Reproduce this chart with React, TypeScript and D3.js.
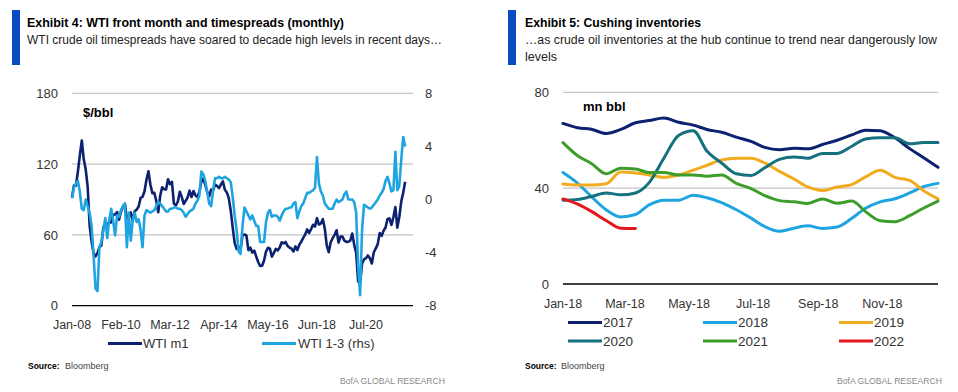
import * as d3 from "d3";

const FONT = "'Liberation Sans', Arial, sans-serif";
const TEXT = "#333333";
const GRID = "#c4c4c4";
const BAR = "#0b4cc2";

// Exhibit 4: month-end values, Jan-08 .. Mar-22
const wtiStart = "Jan-08";
const wtiM1 = [
  91.8, 101.8, 101.6, 113.5, 127.4, 140.0, 124.1, 115.5, 100.6, 67.8, 54.4, 44.6,
  41.7, 44.8, 49.7, 51.1, 66.3, 69.9, 69.5, 70.0, 70.6, 77.0, 77.3, 79.4,
  72.9, 79.7, 83.8, 86.2, 74.0, 75.6, 79.0, 71.9, 80.0, 81.4, 84.1, 91.4,
  92.2, 97.0, 106.7, 113.9, 102.7, 95.4, 95.7, 88.8, 79.2, 93.2, 100.4, 98.8,
  98.5, 107.1, 103.0, 104.9, 86.5, 85.0, 88.1, 96.5, 92.2, 86.2, 88.9, 91.8,
  97.5, 92.1, 97.2, 93.5, 92.0, 96.6, 105.0, 107.7, 102.3, 96.4, 92.7, 98.4,
  97.5, 102.6, 101.6, 99.7, 102.7, 105.4, 98.2, 96.0, 91.2, 80.5, 66.2, 53.3,
  48.2, 49.8, 47.6, 59.6, 60.3, 59.5, 47.1, 49.2, 45.1, 46.6, 41.7, 37.0,
  33.6, 33.8, 38.3, 45.9, 49.1, 48.3, 41.6, 44.7, 48.2, 46.9, 49.4, 53.7,
  52.8, 54.0, 50.6, 49.3, 48.3, 46.0, 50.2, 47.2, 51.7, 54.4, 57.4, 60.4,
  64.7, 61.6, 64.9, 68.6, 67.0, 74.2, 68.8, 69.8, 73.3, 65.3, 50.9, 45.4,
  53.8, 57.2, 60.1, 63.9, 53.5, 58.5, 58.6, 55.1, 54.1, 54.2, 55.2, 61.1,
  51.6, 44.8, 20.5, 19.0, 35.5, 39.3, 40.3, 42.6, 40.2, 35.8, 45.3, 48.5,
  52.2, 61.5, 59.2, 63.6, 66.3, 73.5, 74.0, 68.5, 75.0, 83.6, 66.2, 75.2,
  88.2, 95.7, 105.0,
];
const wti13 = [
  0.1, 0.9, 1.2, 1.4, 0.6, -0.7, -0.8, 0.0, -0.5, -1.0, -2.0, -4.2,
  -6.7, -6.9, -3.6, -3.2, -2.3, -1.4, -2.9, -1.5, -0.7, -1.6, -2.7, -1.2,
  -1.3, -0.8, -0.5, -0.3, -3.6, -1.0, -3.1, -1.5, -1.0, -1.7, -1.5, -2.3,
  -3.6, -1.2, -0.8, -0.9, -1.0, -0.9, -0.8, -0.5, -0.2, -0.3, -0.5, -0.7,
  -0.9, -0.9, -0.7, -0.7, -0.6, -0.6, -0.7, -0.7, -0.8, -1.0, -1.3, -1.1,
  -0.9, -0.8, -0.7, -0.3, -0.1, 0.3, 2.1, 1.9, 1.4, 0.6, -0.3, -0.5,
  0.7, 1.6, 1.6, 1.7, 1.6, 1.6, 1.7, 1.6, 1.5, 1.3, 0.2, -1.2,
  -2.3, -3.9, -4.1, -2.0, -0.6, -0.9, -1.2, -1.5, -1.2, -1.6, -2.0, -2.0,
  -3.2, -3.2, -3.2, -1.7, -1.0, -0.8, -1.3, -1.2, -1.2, -1.3, -1.6, -1.2,
  -0.9, -0.7, -0.7, -0.6, -0.6, -0.3, -0.2, -1.4, -0.9, -0.5, -0.3, 0.1,
  0.5, 0.5, 0.6, 0.7, 0.9, 3.2, 1.2, 0.6, 0.3, -0.3, -0.5, -0.7,
  -0.7, -0.7, -0.3, 0.0, -0.2, -0.1, 0.0, 0.4, 0.6, 0.0, 0.0, 0.0,
  -0.2, -1.0, -5.0, -7.2, -2.3, -0.4, -0.5, -0.6, -0.7, -0.6, -0.4, -0.2,
  0.0, 0.3, 0.5, 0.8, 1.4, 1.7, 1.2, 0.6, 0.7, 3.6, 0.7, 1.0,
  3.0, 4.7, 4.0,
];
const wtiTicks = ["Jan-08", "Feb-10", "Mar-12", "Apr-14", "May-16", "Jun-18", "Jul-20"];
const wtiAxisEnd = "Jul-22";
const priceTicks = [0, 60, 120, 180];
const spreadTicks = [-8, -4, 0, 4, 8];

// Exhibit 5: Cushing stocks (mn bbl), ~fortnightly through the year
const cushingYears = ["2017", "2018", "2019", "2020", "2021", "2022"];
const inv2017 = [67, 65.2, 64.6, 62.8, 64.5, 67.3, 68.2, 69.3, 67.5, 66.3, 64.5, 63.3, 61.3, 59.5, 57, 56, 56.6, 56.4, 58.2, 60, 62.2, 64.2, 64, 61, 56.5, 52.8, 48.7];
const inv2018 = [46.5, 42, 36.5, 31, 28, 29, 33, 35, 35, 37, 36, 34, 31, 27.5, 24, 22, 23.3, 24.3, 23.2, 23.8, 27.4, 31.6, 34.3, 35.6, 38, 40.6, 42];
const inv2019 = [41.7, 41.3, 41.3, 41.8, 46.7, 46.3, 45.5, 44.5, 45.5, 47.5, 49.5, 51.8, 52.5, 52.5, 50.5, 47, 43.8, 40.5, 39, 40.5, 41.5, 44.7, 47.5, 44.5, 43.2, 39, 35.5];
const inv2020 = [35, 35.3, 36.5, 38, 37.2, 38, 42.3, 52.5, 62, 64, 55.5, 50.5, 46, 45.3, 48.5, 52, 53, 52.5, 54.5, 54.5, 57.5, 60.5, 61, 61, 58.5, 59, 59];
const inv2021 = [59, 53.5, 50.3, 46, 48.3, 48, 46.5, 46.5, 45.5, 45.5, 45, 45.5, 42, 39.8, 36.9, 34.8, 34.3, 33.6, 35.5, 33.7, 34.6, 30.2, 26.4, 26, 28.5, 31.6, 34.6];
const inv2022 = [35.5, 33.3, 30.3, 26.5, 23.3, 23.2];
const cushingColors = ["#0c2170", "#1ea4e0", "#f0ab1e", "#16717f", "#3c9d2b", "#e3161c"];
const cushingTicks = ["Jan-18", "Mar-18", "May-18", "Jul-18", "Sep-18", "Nov-18"];
const invTicks = [0, 40, 80];

const parseMon = d3.timeParse("%b-%y");

function LeftChart() {
  const start = parseMon(wtiStart)!;
  const monthIdx = (label: string) => d3.timeMonth.count(start, parseMon(label)!);
  const x = d3.scaleLinear().domain([0, monthIdx(wtiAxisEnd)]).range([72, 413]);
  const yL = d3.scaleLinear().domain([0, 180]).range([305.7, 93.3]);
  const yR = d3.scaleLinear().domain([-8, 8]).range([305.7, 93.3]);
  const lineM1 = d3.line<number>().x((_, i) => x(i)).y((d) => yL(d));
  const line13 = d3.line<number>().x((_, i) => x(i)).y((d) => yR(d));
  const [x0, x1] = x.range();

  return (
    <g fontFamily={FONT}>
      <rect x={12} y={10} width={8} height={55} fill={BAR} />
      <text x={27} y={27} fontSize={13} fontWeight="bold" fill="#000" textLength={317} lengthAdjust="spacingAndGlyphs">
        Exhibit 4: WTI front month and timespreads (monthly)
      </text>
      <text x={27} y={44} fontSize={12.5} fill="#222" textLength={415} lengthAdjust="spacingAndGlyphs">
        WTI crude oil timespreads have soared to decade high levels in recent days…
      </text>

      {priceTicks.filter((t) => t > 0).map((t) => (
        <line key={t} x1={x0} x2={x1} y1={yL(t)} y2={yL(t)} stroke={GRID} strokeWidth={1.2} />
      ))}
      <line x1={x0} x2={x1} y1={yL(0)} y2={yL(0)} stroke="#000" strokeWidth={1.3} />

      {priceTicks.map((t) => (
        <text key={t} x={58} y={yL(t) + 4.6} fontSize={13} fill={TEXT} textAnchor="end">{t}</text>
      ))}
      {spreadTicks.map((t) => (
        <text key={t} x={425} y={yR(t) + 4.6} fontSize={13} fill={TEXT}>{t}</text>
      ))}
      <text x={83} y={117} fontSize={13} fontWeight="bold" fill="#000">$/bbl</text>

      <path d={lineM1(wtiM1) ?? ""} fill="none" stroke="#0c2170" strokeWidth={2.6} strokeLinejoin="round" />
      <path d={line13(wti13) ?? ""} fill="none" stroke="#1ea4e0" strokeWidth={2.6} strokeLinejoin="round" />

      {wtiTicks.map((t) => (
        <text key={t} x={x(monthIdx(t))} y={329} fontSize={12.5} fill={TEXT} textAnchor="middle">{t}</text>
      ))}

      <line x1={108} x2={142} y1={343.5} y2={343.5} stroke="#0c2170" strokeWidth={3} />
      <text x={143} y={347.5} fontSize={13} fill={TEXT}>WTI m1</text>
      <line x1={262} x2={296} y1={343.5} y2={343.5} stroke="#1ea4e0" strokeWidth={3} />
      <text x={298} y={347.5} fontSize={13} fill={TEXT}>WTI 1-3 (rhs)</text>

      <text x={28} y={369} fontSize={8.5} fontWeight="bold" fill="#000">Source:</text>
      <text x={65} y={369} fontSize={9} fill="#444">Bloomberg</text>
      <text x={340} y={384} fontSize={9} fill="#8a8a8a" textLength={105} lengthAdjust="spacingAndGlyphs">BofA GLOBAL RESEARCH</text>
    </g>
  );
}

function RightChart() {
  const jan = parseMon(cushingTicks[0])!;
  const end = d3.timeDay.offset(jan, 357);
  const x = d3.scaleTime().domain([jan, end]).range([563, 938]);
  const y = d3.scaleLinear().domain([0, 80]).range([284, 92.3]);
  const series = [inv2017, inv2018, inv2019, inv2020, inv2021, inv2022];
  const nPts = inv2017.length;
  const dateAt = (i: number) => d3.timeDay.offset(jan, Math.round((i * 357) / (nPts - 1)));
  const line = d3.line<number>().x((_, i) => x(dateAt(i))).y((d) => y(d)).curve(d3.curveMonotoneX);
  const [x0, x1] = x.range();
  const legendCols = [568, 703, 839];
  const legendRows = [322.5, 341];

  return (
    <g fontFamily={FONT}>
      <rect x={508} y={10} width={8} height={55} fill={BAR} />
      <text x={525} y={27} fontSize={13} fontWeight="bold" fill="#000" textLength={176} lengthAdjust="spacingAndGlyphs">
        Exhibit 5: Cushing inventories
      </text>
      <text x={525} y={44} fontSize={12.5} fill="#222" textLength={412} lengthAdjust="spacingAndGlyphs">
        …as crude oil inventories at the hub continue to trend near dangerously low
      </text>
      <text x={525} y={61} fontSize={12.5} fill="#222">levels</text>

      {invTicks.filter((t) => t > 0).map((t) => (
        <line key={t} x1={x0} x2={x1} y1={y(t)} y2={y(t)} stroke={GRID} strokeWidth={1.2} />
      ))}
      <line x1={x0} x2={x1} y1={y(0)} y2={y(0)} stroke="#000" strokeWidth={1.3} />
      {invTicks.map((t) => (
        <text key={t} x={549} y={y(t) + 4.6} fontSize={13} fill={TEXT} textAnchor="end">{t}</text>
      ))}
      <text x={583} y={110.5} fontSize={13} fontWeight="bold" fill="#000">mn bbl</text>

      {series.map((s, k) => (
        <path key={k} d={line(s) ?? ""} fill="none" stroke={cushingColors[k]} strokeWidth={3} strokeLinejoin="round" strokeLinecap="round" />
      ))}

      {cushingTicks.map((t) => (
        <text key={t} x={x(parseMon(t)!)} y={308} fontSize={12.5} fill={TEXT} textAnchor="middle">{t}</text>
      ))}

      {cushingYears.map((yr, k) => {
        const lx = legendCols[k % 3];
        const ly = legendRows[Math.floor(k / 3)];
        return (
          <g key={yr}>
            <line x1={lx} x2={lx + 34} y1={ly} y2={ly} stroke={cushingColors[k]} strokeWidth={3} />
            <text x={lx + 35} y={ly + 4.8} fontSize={13.5} fill={TEXT}>{yr}</text>
          </g>
        );
      })}

      <text x={525} y={369} fontSize={8.5} fontWeight="bold" fill="#000">Source:</text>
      <text x={561} y={369} fontSize={9} fill="#444">Bloomberg</text>
      <text x={837} y={384} fontSize={9} fill="#8a8a8a" textLength={105} lengthAdjust="spacingAndGlyphs">BofA GLOBAL RESEARCH</text>
    </g>
  );
}

export default function App() {
  return (
    <svg width={958} height={392} style={{ position: "absolute", left: 0, top: 0, background: "#fff" }}>
      <rect width={958} height={392} fill="#fff" />
      <LeftChart />
      <RightChart />
    </svg>
  );
}
